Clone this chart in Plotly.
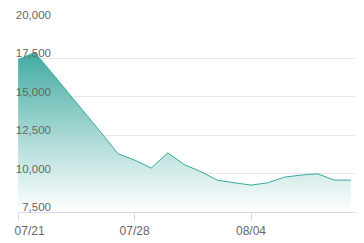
import plotly.graph_objects as go

dates = ["2024-07-21", "2024-07-22", "2024-07-23", "2024-07-24", "2024-07-25", "2024-07-26",
         "2024-07-27", "2024-07-28", "2024-07-29", "2024-07-30", "2024-07-31", "2024-08-01",
         "2024-08-02", "2024-08-03", "2024-08-04", "2024-08-05", "2024-08-06", "2024-08-07",
         "2024-08-08", "2024-08-09", "2024-08-10"]
values = [17430, 17880, 16600, 15300, 14000, 12650,
          11300, 10880, 10360, 11350, 10580, 10120,
          9560, 9380, 9250, 9400, 9770, 9900,
          9990, 9580, 9580]
y_ticks = [7500, 10000, 12500, 15000, 17500, 20000]
first_tick = ["2024-07-21"]
first_tick_text = ["07/21"]
x_ticks = ["2024-07-28", "2024-08-04"]
x_tick_text = ["07/28", "08/04"]

x_range = ["2024-07-20 23:50", "2024-08-10 06:00"]
axis_col = "#d6daee"

fig = go.Figure()
fig.add_trace(go.Scatter(
    x=dates, y=values, mode="lines",
    line=dict(color="#3aa99f", width=1),
    fill="tozeroy",
    fillgradient=dict(type="vertical", start=7500, stop=18000,
                      colorscale=[[0, "rgba(255,255,255,0.9)"], [1, "rgba(58,168,158,0.98)"]]),
    hoverinfo="skip",
))
# carrier for the overlaid axis that holds the first date label
fig.add_trace(go.Scatter(
    x=dates, y=values, mode="lines", xaxis="x2",
    line=dict(color="rgba(0,0,0,0)", width=0),
    hoverinfo="skip",
))
fig.update_layout(
    width=364, height=243,
    margin=dict(l=18, r=9, t=20, b=31, autoexpand=False),
    paper_bgcolor="white", plot_bgcolor="white",
    showlegend=False,
    font=dict(family="Liberation Sans, Arial, sans-serif", color="#666666"),
    xaxis2=dict(
        type="date", overlaying="x", anchor="y", side="bottom", automargin=False,
        range=x_range, tickvals=first_tick, ticktext=first_tick_text,
        showgrid=False, zeroline=False, showline=False,
        ticks="outside", ticklen=8, tickcolor=axis_col, tickwidth=1,
        tickfont=dict(size=12), ticklabelposition="outside right",
        ticklabelshift=-4, ticklabelstandoff=8, ticklabeloverflow="allow",
    ),
)
fig.layout.xaxis.update(
    type="date", automargin=False,
    range=x_range,
    tickvals=x_ticks, ticktext=x_tick_text,
    showgrid=False, zeroline=False,
    showline=True, linecolor=axis_col, linewidth=1,
    ticks="outside", ticklen=8, tickcolor=axis_col, tickwidth=1,
    tickfont=dict(size=12),
)
fig.update_yaxes(
    range=[7500, 20000], automargin=False,
    tickvals=y_ticks, tickformat=",",
    showgrid=True, gridcolor="#e8e8e8", gridwidth=1,
    zeroline=False, showline=False,
    ticklabelposition="outside", ticklabelstandoff=-34, ticklabelshift=-5,
    tickfont=dict(size=11.5), ticklabeloverflow="allow",
)
fig.write_html("out.html")
